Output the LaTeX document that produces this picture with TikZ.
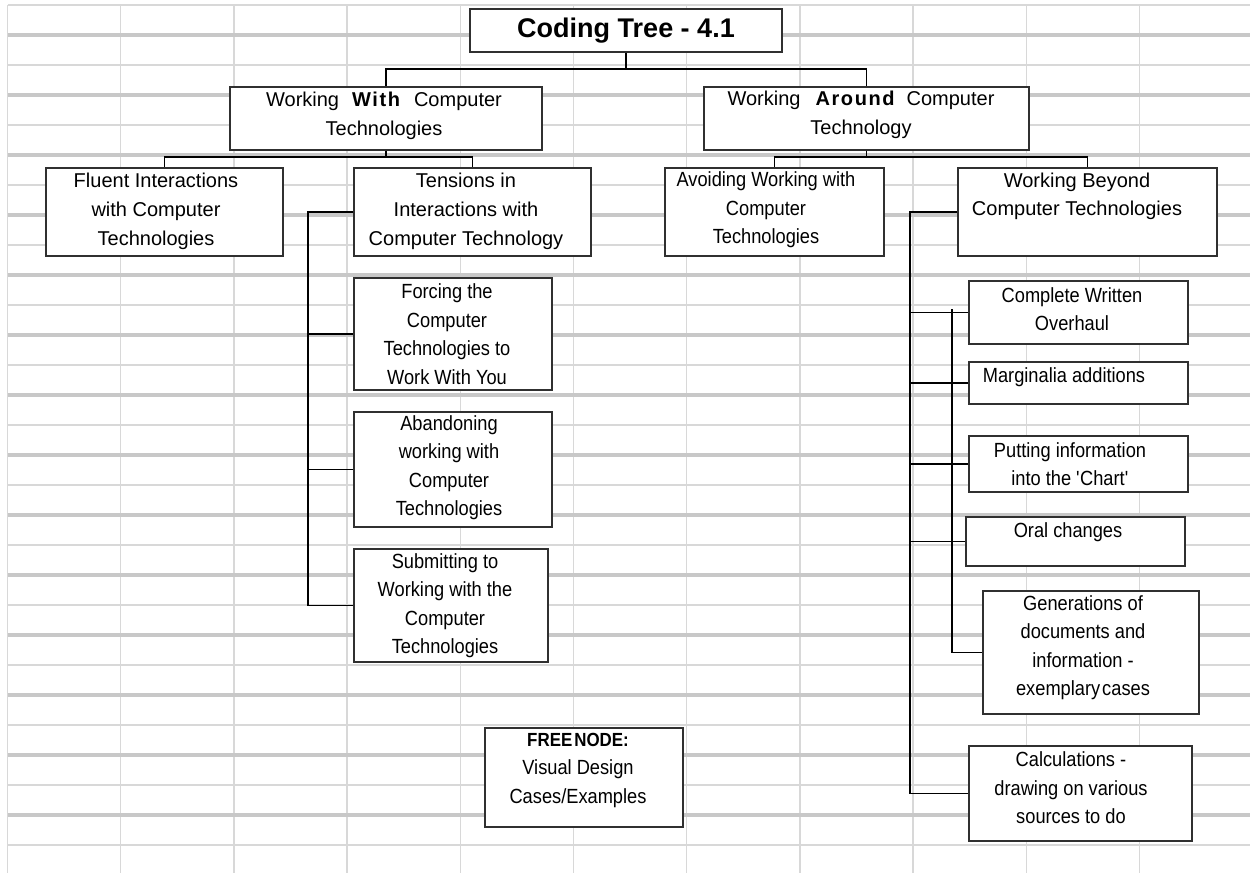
\documentclass[tikz,border=0pt]{standalone}
\usepackage{fontspec}
\setmainfont{Liberation Sans}
\newfontfamily\spacedfont[LetterSpace=8]{Liberation Sans}
\newfontfamily\narrowfont[FakeStretch=0.89]{Liberation Sans}
\newcommand\spacedbf[1]{{\spacedfont\bfseries #1}}
\usetikzlibrary{fit}
\definecolor{gridline}{HTML}{D8D8D8}
\definecolor{gridrule}{HTML}{C8C8C8}
\definecolor{boxline}{HTML}{303030}
\tikzset{
  gridthin/.style={draw=gridline, line width=1.3pt},
  gridthick/.style={draw=gridrule, line width=3.2pt},
  box/.style={draw=boxline, fill=white, line width=1.4pt, inner sep=0pt},
  boxtext/.style={align=center, inner sep=0pt, font=\narrowfont\fontsize{20.5}{28.5}\selectfont},
  widetext/.style={boxtext, font=\fontsize{20}{29}\selectfont},
  link/.style={draw=black, line width=1.2pt},
}
\begin{document}
\begin{tikzpicture}[x=1pt, y=-1pt]
\useasboundingbox[fill=white] (0,0) rectangle (1250,873);

% spreadsheet grid behind the tree
\foreach \i in {0,...,10}
  \draw[gridthin] ({7.5+113.2*\i},5) -- ({7.5+113.2*\i},873);
\foreach \i in {0,...,14}
  \draw[gridthin] (7.5,{5+60*\i}) -- (1250,{5+60*\i});
\foreach \i in {0,...,13}
  \draw[gridthick] (7.5,{35+60*\i}) -- (1250,{35+60*\i});

% boxes
\node[box, fit={(470,9) (782,52)}] (title) {};
\node[box, fit={(230,87) (542,150)}] (with) {};
\node[box, fit={(704,87) (1029,150)}] (around) {};
\node[box, fit={(46,168) (283,256)}] (fluent) {};
\node[box, fit={(354,168) (591,256)}] (tensions) {};
\node[box, fit={(665,168) (884,256)}] (avoid) {};
\node[box, fit={(958,168) (1217,256)}] (beyond) {};
\node[box, fit={(354,278) (552,390)}] (forcing) {};
\node[box, fit={(354,412) (552,527)}] (abandon) {};
\node[box, fit={(354,549) (548,662)}] (submit) {};
\node[box, fit={(969,281) (1188,344)}] (complete) {};
\node[box, fit={(969,362) (1188,404)}] (margin) {};
\node[box, fit={(969,436) (1188,492)}] (putting) {};
\node[box, fit={(966,517) (1185,566)}] (oral) {};
\node[box, fit={(983,591) (1199,714)}] (gen) {};
\node[box, fit={(969,746) (1192,841)}] (calc) {};
\node[box, fit={(485,728) (683,827)}] (free) {};

% connectors
\coordinate (j0) at (626,69);
\draw[link] (title.south) -- (j0) -| (with.north);
\draw[link] (j0) -| (around.north);

\coordinate (j1) at (386,157);
\draw[link] (with.south) -- (j1) -| (fluent.north);
\draw[link] (j1) -| (tensions.north);

\coordinate (j2) at (866.5,157);
\draw[link] (around.south) -- (j2) -| (avoid.north);
\draw[link] (j2) -| (beyond.north);

\coordinate (ls) at (308,0);
\draw[link] (tensions.west) -- (tensions.west -| ls) |- (submit.west);
\foreach \n in {forcing, abandon}
  \draw[link] (\n.west -| ls) -- (\n.west);

\coordinate (rs) at (910,0);
\draw[link] (beyond.west) -- (beyond.west -| rs) |- (calc.west);
\foreach \n in {complete, margin, putting, oral}
  \draw[link] (\n.west -| rs) -- (\n.west);
\coordinate (is) at (952,309);
\draw[link] (is) |- (gen.west);

% box texts
\node[boxtext, font=\fontsize{27}{30}\selectfont\bfseries] (title-t) at (626,31) {Coding Tree - 4.1};
\node[widetext] (with-t) at (384,115.5) {Working\hspace{13pt}\spacedbf{With}\hspace{14pt}Computer\\Technologies};
\node[widetext] (around-t) at (861,115) {Working\hspace{15pt}\spacedbf{Around}\hspace{12pt}Computer\\Technology};
\node[widetext] (fluent-t) at (156,211.5) {Fluent Interactions\\with Computer\\Technologies};
\node[widetext] (tensions-t) at (466,211.5) {Tensions in\\Interactions with\\Computer Technology};
\node[boxtext] (avoid-t) at (766,210) {Avoiding Working with\\Computer\\Technologies};
\node[boxtext, font=\fontsize{20}{28}\selectfont] (beyond-t) at (1077,196.5) {Working Beyond\\Computer Technologies};
\node[boxtext] (forcing-t) at (447,334) {Forcing the\\Computer\\Technologies to\\Work With You};
\node[boxtext] (abandon-t) at (449,467.5) {Abandoning\\working with\\Computer\\Technologies};
\node[boxtext] (submit-t) at (445,605.5) {Submitting to\\Working with the\\Computer\\Technologies};
\node[boxtext] (complete-t) at (1072,309) {Complete Written\\Overhaul};
\node[boxtext] (margin-t) at (1064,377) {Marginalia additions};
\node[boxtext] (putting-t) at (1070,464) {Putting information\\into the \textquotesingle Chart\textquotesingle};
\node[boxtext] (oral-t) at (1068,532) {Oral changes};
\node[boxtext] (gen-t) at (1083,647.5) {Generations of\\documents and\\information -\\exemplary\hspace{2pt}cases};
\node[boxtext] (calc-t) at (1071,788) {Calculations -\\drawing on various\\sources to do};
\node[boxtext] (free-t) at (578,770) {{\bfseries\fontsize{19}{28.5}\selectfont FREE\hspace{2pt}NODE:}\\Visual Design\\Cases/Examples};
\end{tikzpicture}
\end{document}
